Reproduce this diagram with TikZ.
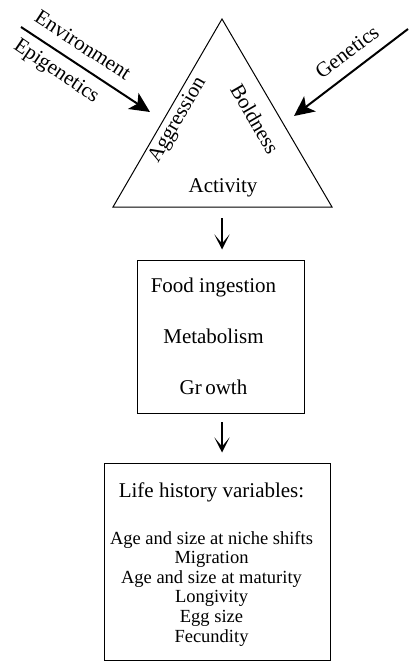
\documentclass[tikz,border=0pt]{standalone}
\usepackage{fontspec}
\setmainfont{Liberation Serif}
\usetikzlibrary{arrows.meta}
\begin{document}
\begin{tikzpicture}[x=1pt,y=-1pt,
  big/.style={font=\fontsize{21}{25}\selectfont, inner sep=0pt},
  small/.style={font=\fontsize{18.5}{20}\selectfont, inner sep=0pt, anchor=base},
  outline/.style={line width=1pt},
  influence/.style={line width=2pt, -{Stealth[length=20pt,width=19pt,inset=5pt]}},
  flow/.style={line width=1.3pt, -{Stealth[length=15pt,width=15pt,inset=9pt]}},
  panel/.style={draw, line width=1pt, inner sep=0pt}]
\useasboundingbox (0,0) rectangle (410,663);
% triangle
\coordinate (apex) at (222,19);
\coordinate (bl) at (113,207);
\coordinate (br) at (332,207);
\draw[outline] (apex) -- (bl) -- (br) -- cycle;
\node[big, rotate=60] (aggr) at (178,120) {Aggression};
\node[big, rotate=-60] (bold) at (255,119) {Boldness};
\node[big, anchor=base] (act) at (223,193) {Activity};
% influences
\coordinate (envstart) at (21,27);
\coordinate (envtip) at (150,112);
\coordinate (genstart) at (408,29);
\coordinate (gentip) at (294,116);
\draw[influence] (envstart) -- (envtip);
\draw[influence] (genstart) -- (gentip);
\node[big, rotate=-33] (env) at (83,45) {Environment};
\node[big, rotate=-34] (epi) at (56,72) {Epigenetics};
\node[big, rotate=37] (gen) at (347,52) {Genetics};
% box 1
\node[panel, minimum width=167pt, minimum height=153pt] (box1) at (220.5,336.5) {};
\node[big, anchor=base] (food) at (213.5,292.7) {Food ingestion};
\node[big, anchor=base] (meta) at (213.5,343) {Metabolism};
\node[big, anchor=base] (grow) at (213.5,394) {Gr\,owth};
% box 2
\node[panel, minimum width=226pt, minimum height=197pt] (box2) at (217,561.5) {};
\node[big, anchor=base] (life) at (211.5,497) {Life history variables:};
\node[small] (v1) at (211.5,544) {Age and size at niche shifts};
\node[small] (v2) at (211.5,563.6) {Migration};
\node[small] (v3) at (211.5,583.2) {Age and size at maturity};
\node[small] (v4) at (211.5,602.8) {Longivity};
\node[small] (v5) at (211.5,622.4) {Egg size};
\node[small] (v6) at (211.5,642) {Fecundity};
% flow arrows
\coordinate (tribase) at (222,207);
\draw[flow, shorten <=11pt, shorten >=10pt] (tribase) -- (box1.north -| tribase);
\coordinate (b1base) at (222,413);
\draw[flow, shorten <=9pt, shorten >=10pt] (b1base) -- (box2.north -| b1base);
\end{tikzpicture}
\end{document}
